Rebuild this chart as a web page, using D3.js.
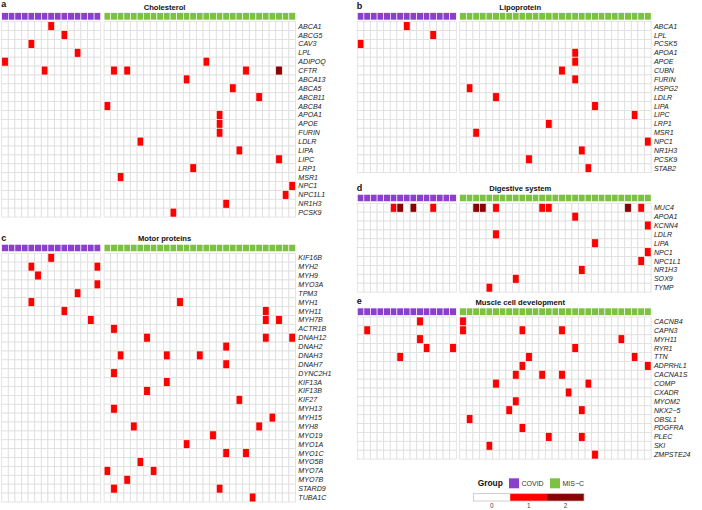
<!DOCTYPE html>
<html>
<head>
<meta charset="utf-8">
<script src="https://cdn.jsdelivr.net/npm/d3@7"></script>
<style>
  body { margin: 0; background: #fff; }
  svg { display: block; }
  text { font-family: "Liberation Sans", Arial, sans-serif; }
</style>
</head>
<body>
<svg id="chart" width="702" height="510"></svg>
<script>
// patients per group
const nCovid = 15;
const nMisc = 29;

const groups = ["COVID", "MIS−C"];
const groupColours = ["#8a3fcd", "#7cc142"];
const levels = [0, 1, 2];
const levelColours = ["#ffffff", "#ff0000", "#8b0000"];

// hits are [gene, patient column, value]
const cholesterolGenes = ["ABCA1", "ABCG5", "CAV3", "LPL", "ADIPOQ", "CFTR", "ABCA13", "ABCA5", "ABCB11", "ABCB4",
  "APOA1", "APOE", "FURIN", "LDLR", "LIPA", "LIPC", "LRP1", "MSR1", "NPC1", "NPC1L1", "NR1H3", "PCSK9"];
const cholesterolCovid = [["ABCA1", 7, 1], ["ABCG5", 9, 1], ["CAV3", 4, 1], ["LPL", 11, 1], ["ADIPOQ", 0, 1], ["CFTR", 6, 1]];
const cholesterolMisc = [["ADIPOQ", 15, 1], ["CFTR", 1, 1], ["CFTR", 3, 1], ["CFTR", 21, 1], ["CFTR", 26, 2],
  ["ABCA13", 12, 1], ["ABCA5", 19, 1], ["ABCB11", 23, 1], ["ABCB4", 0, 1], ["APOA1", 17, 1], ["APOE", 17, 1],
  ["FURIN", 17, 1], ["LDLR", 5, 1], ["LIPA", 20, 1], ["LIPC", 26, 1], ["LRP1", 13, 1], ["MSR1", 2, 1],
  ["NPC1", 28, 1], ["NPC1L1", 27, 1], ["NR1H3", 18, 1], ["PCSK9", 10, 1]];

const lipoproteinGenes = ["ABCA1", "LPL", "PCSK5", "APOA1", "APOE", "CUBN", "FURIN", "HSPG2", "LDLR", "LIPA",
  "LIPC", "LRP1", "MSR1", "NPC1", "NR1H3", "PCSK9", "STAB2"];
const lipoproteinCovid = [["ABCA1", 7, 1], ["LPL", 11, 1], ["PCSK5", 0, 1]];
const lipoproteinMisc = [["APOA1", 17, 1], ["APOE", 17, 1], ["CUBN", 15, 1], ["FURIN", 17, 1], ["HSPG2", 1, 1],
  ["LDLR", 5, 1], ["LIPA", 20, 1], ["LIPC", 26, 1], ["LRP1", 13, 1], ["MSR1", 2, 1], ["NPC1", 28, 1],
  ["NR1H3", 18, 1], ["PCSK9", 10, 1], ["STAB2", 19, 1]];

const motorGenes = ["KIF16B", "MYH2", "MYH9", "MYO3A", "TPM3", "MYH1", "MYH11", "MYH7B", "ACTR1B", "DNAH12",
  "DNAH2", "DNAH3", "DNAH7", "DYNC2H1", "KIF13A", "KIF13B", "KIF27", "MYH13", "MYH15", "MYH8", "MYO19",
  "MYO1A", "MYO1C", "MYO5B", "MYO7A", "MYO7B", "STARD9", "TUBA1C"];
const motorCovid = [["KIF16B", 7, 1], ["MYH2", 4, 1], ["MYH2", 14, 1], ["MYH9", 5, 1], ["MYO3A", 14, 1],
  ["TPM3", 11, 1], ["MYH1", 4, 1], ["MYH11", 9, 1], ["MYH7B", 13, 1]];
const motorMisc = [["MYH1", 11, 1], ["MYH11", 24, 1], ["MYH7B", 24, 1], ["MYH7B", 26, 1], ["ACTR1B", 1, 1],
  ["DNAH12", 6, 1], ["DNAH12", 24, 1], ["DNAH12", 28, 1], ["DNAH2", 18, 1], ["DNAH3", 2, 1], ["DNAH3", 9, 1],
  ["DNAH3", 14, 1], ["DNAH7", 18, 1], ["DYNC2H1", 1, 1], ["KIF13A", 9, 1], ["KIF13B", 6, 1], ["KIF27", 20, 1],
  ["MYH13", 1, 1], ["MYH15", 25, 1], ["MYH8", 4, 1], ["MYH8", 23, 1], ["MYO19", 16, 1], ["MYO1A", 12, 1],
  ["MYO1C", 18, 1], ["MYO1C", 21, 1], ["MYO5B", 5, 1], ["MYO7A", 0, 1], ["MYO7A", 7, 1], ["MYO7B", 3, 1],
  ["STARD9", 1, 1], ["STARD9", 17, 1], ["TUBA1C", 22, 1]];

const digestiveGenes = ["MUC4", "APOA1", "KCNN4", "LDLR", "LIPA", "NPC1", "NPC1L1", "NR1H3", "SOX9", "TYMP"];
const digestiveCovid = [["MUC4", 5, 1], ["MUC4", 6, 2], ["MUC4", 8, 2], ["MUC4", 11, 1]];
const digestiveMisc = [["MUC4", 2, 2], ["MUC4", 3, 2], ["MUC4", 5, 1], ["MUC4", 12, 1], ["MUC4", 13, 1],
  ["MUC4", 25, 2], ["MUC4", 27, 1], ["APOA1", 17, 1], ["KCNN4", 28, 1], ["LDLR", 5, 1], ["LIPA", 20, 1],
  ["NPC1", 28, 1], ["NPC1L1", 27, 1], ["NR1H3", 18, 1], ["SOX9", 8, 1], ["TYMP", 4, 1]];

const muscleGenes = ["CACNB4", "CAPN3", "MYH11", "RYR1", "TTN", "ADPRHL1", "CACNA1S", "COMP", "CXADR", "MYOM2",
  "NKX2−5", "OBSL1", "PDGFRA", "PLEC", "SKI", "ZMPSTE24"];
const muscleCovid = [["CACNB4", 9, 1], ["CAPN3", 1, 1], ["MYH11", 9, 1], ["RYR1", 10, 1], ["RYR1", 14, 1], ["TTN", 6, 1]];
const muscleMisc = [["CACNB4", 0, 1], ["CAPN3", 0, 1], ["CAPN3", 9, 1], ["CAPN3", 15, 1], ["MYH11", 24, 1],
  ["RYR1", 17, 1], ["TTN", 10, 1], ["TTN", 26, 1], ["ADPRHL1", 9, 1], ["ADPRHL1", 28, 1], ["CACNA1S", 8, 1],
  ["CACNA1S", 12, 1], ["CACNA1S", 15, 1], ["COMP", 5, 1], ["COMP", 19, 1], ["CXADR", 16, 1], ["MYOM2", 8, 1],
  ["NKX2−5", 7, 1], ["NKX2−5", 18, 1], ["OBSL1", 1, 1], ["PDGFRA", 9, 1], ["PLEC", 13, 1], ["PLEC", 18, 1],
  ["SKI", 4, 1], ["ZMPSTE24", 20, 1]];

// layout
const cw = 6.6, rh = 8.88, gap = 3.4;
const panels = [
  { letter: "a", title: "Cholesterol", genes: cholesterolGenes, covid: cholesterolCovid, misc: cholesterolMisc, x: 1.7, y: 21.7, ly: 6.5 },
  { letter: "b", title: "Lipoprotein", genes: lipoproteinGenes, covid: lipoproteinCovid, misc: lipoproteinMisc, x: 357.3, y: 21.7, ly: 9.2 },
  { letter: "c", title: "Motor proteins", genes: motorGenes, covid: motorCovid, misc: motorMisc, x: 1.7, y: 253.3, ly: 240.7 },
  { letter: "d", title: "Digestive system", genes: digestiveGenes, covid: digestiveCovid, misc: digestiveMisc, x: 357.3, y: 203.3, ly: 190.5 },
  { letter: "e", title: "Muscle cell development", genes: muscleGenes, covid: muscleCovid, misc: muscleMisc, x: 357.3, y: 317, ly: 304 }
];

const svg = d3.select("#chart");
const colour = d3.scaleOrdinal().domain(levels).range(levelColours);

function drawPanel(p) {
  const g = svg.append("g");
  const y = d3.scaleBand().domain(p.genes).range([p.y, p.y + p.genes.length * rh]);
  const xCovid = d3.scaleBand().domain(d3.range(nCovid)).range([p.x, p.x + nCovid * cw]);
  const mStart = p.x + nCovid * cw + gap;
  const xMisc = d3.scaleBand().domain(d3.range(nMisc)).range([mStart, mStart + nMisc * cw]);
  const right = mStart + nMisc * cw;

  [[xCovid, p.covid, nCovid, 0], [xMisc, p.misc, nMisc, 1]].forEach(([x, hits, n, gi]) => {
    const lookup = new Map(hits.map(h => [h[0] + "|" + h[1], h[2]]));
    const cells = [];
    p.genes.forEach(gene => d3.range(n).forEach(i => {
      cells.push({ gene, i, v: lookup.get(gene + "|" + i) || 0 });
    }));
    // white cells first, hits on top so their edges stay clean
    cells.sort((a, b) => a.v - b.v);
    g.append("g").selectAll("rect").data(cells).join("rect")
      .attr("x", d => x(d.i))
      .attr("y", d => y(d.gene))
      .attr("width", x.bandwidth())
      .attr("height", y.bandwidth())
      .attr("fill", d => colour(d.v))
      .attr("stroke", d => d.v ? "#f4f4f4" : "#dedede")
      .attr("stroke-width", d => d.v ? 0.7 : 0.8);

    // group annotation bar
    g.append("g").selectAll("rect").data(d3.range(n)).join("rect")
      .attr("x", i => x(i))
      .attr("y", p.y - 9)
      .attr("width", x.bandwidth())
      .attr("height", 7.3)
      .attr("fill", groupColours[gi])
      .attr("stroke", "#fff")
      .attr("stroke-width", 0.6);
  });

  g.append("g").selectAll("text").data(p.genes).join("text")
    .attr("x", right + 2.8)
    .attr("y", d => y(d) + y.bandwidth() / 2)
    .attr("dy", "0.35em")
    .attr("font-size", 7.1)
    .attr("font-style", "italic")
    .attr("fill", "#222")
    .text(d => d);

  g.append("text")
    .attr("x", (p.x + right) / 2 + 16)
    .attr("y", p.y - 12)
    .attr("text-anchor", "middle")
    .attr("font-size", 7.6)
    .attr("font-weight", "bold")
    .attr("fill", "#111")
    .text(p.title);

  g.append("text")
    .attr("x", p.x - 0.5)
    .attr("y", p.ly)
    .attr("font-size", 9)
    .attr("font-weight", "bold")
    .attr("fill", "#111")
    .text(p.letter);
}

panels.forEach(drawPanel);

// legend
const lg = svg.append("g");
lg.append("text")
  .attr("x", 477.7).attr("y", 486.3)
  .attr("font-size", 8.4).attr("font-weight", "bold").attr("fill", "#111")
  .text("Group");

const gx = d3.scalePoint().domain(groups).range([509, 550]);
lg.selectAll("rect.grp").data(groups).join("rect")
  .attr("class", "grp")
  .attr("x", d => gx(d)).attr("y", 478.3)
  .attr("width", 10).attr("height", 10)
  .attr("fill", (d, i) => groupColours[i]);
lg.selectAll("text.grp").data(groups).join("text")
  .attr("class", "grp")
  .attr("x", d => gx(d) + 12.5).attr("y", 486)
  .attr("font-size", 7).attr("fill", "#333")
  .text(d => d);

const bx = d3.scaleBand().domain(levels).range([473.3, 584]);
lg.selectAll("rect.lvl").data(levels).join("rect")
  .attr("class", "lvl")
  .attr("x", d => bx(d)).attr("y", 493.7)
  .attr("width", bx.bandwidth()).attr("height", 7.3)
  .attr("fill", d => colour(d));
lg.append("rect")
  .attr("x", 473.3).attr("y", 493.7)
  .attr("width", 584 - 473.3).attr("height", 7.3)
  .attr("fill", "none").attr("stroke", "#bbb").attr("stroke-width", 0.7);
lg.selectAll("text.lvl").data(levels).join("text")
  .attr("class", "lvl")
  .attr("x", d => bx(d) + bx.bandwidth() / 2).attr("y", 508.3)
  .attr("text-anchor", "middle")
  .attr("font-size", 6.3).attr("fill", "#444")
  .text(d => d);
</script>
</body>
</html>
